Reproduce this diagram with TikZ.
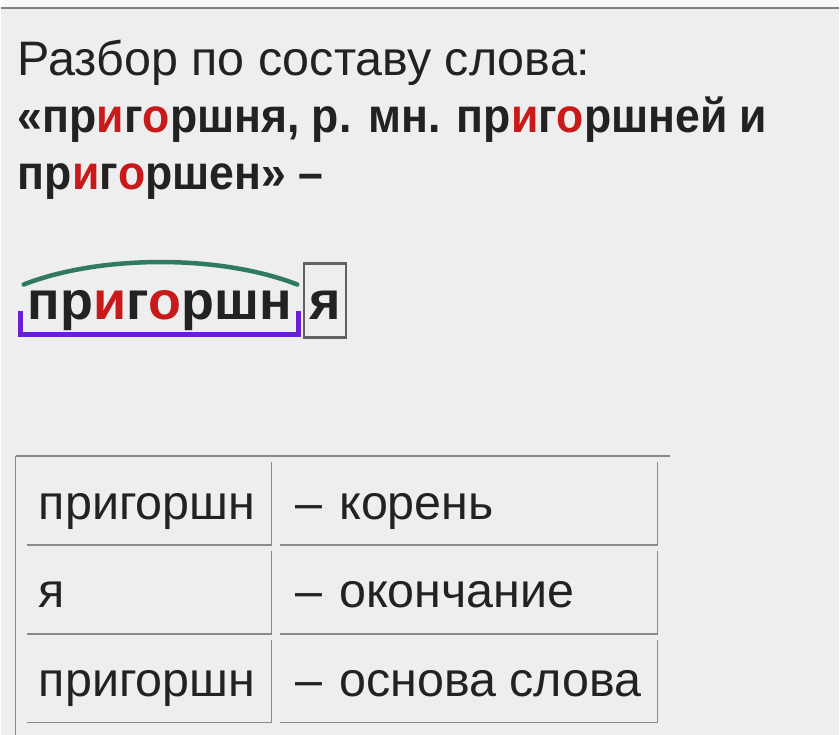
\documentclass[tikz,border=0pt]{standalone}
\usepackage{fontspec}
\setmainfont{Liberation Sans}
\newfontfamily\headfont{Liberation Sans}[FakeStretch=0.93]

\definecolor{ink}{HTML}{222222}
\definecolor{accent}{HTML}{C81A1A}
\definecolor{rootgreen}{HTML}{2F7A60}
\definecolor{stemviolet}{HTML}{6A1FD0}
\definecolor{paper}{HTML}{EEEEEE}
\definecolor{rulegray}{HTML}{8A8A8A}
\newcommand{\redl}[1]{\textcolor{accent}{#1}}
\newcommand{\dsh}{–\hspace{17pt}}

\begin{document}
\begin{tikzpicture}[x=1pt, y=-1pt,
    txt/.style={anchor=base west, inner sep=0pt, text=ink, font=\fontsize{48.5}{57}\selectfont},
    boldtxt/.style={txt, font=\fontsize{48}{57}\selectfont\headfont\bfseries},
    wordtxt/.style={txt, font=\fontsize{54}{60}\selectfont\bfseries},
    cellline/.style={draw=rulegray, line width=1.5pt}]

    % background and top rule
    \fill[paper] (0,0) rectangle (840,736);
    \fill[white!60!paper] (0,0) rectangle (840,7);
    \draw[gray, line width=1.5pt] (0,8) -- (840,8);
    \useasboundingbox (0,0) rectangle (840,736);

    % heading
    \node[txt] (head1) at (17,76) {Разбор по составу слова:};
    \node[boldtxt] (head2) at (17,133) {«пр\redl{и}г\redl{о}ршня, р. мн. пр\redl{и}г\redl{о}ршней и};
    \node[boldtxt] (head3) at (17,190) {пр\redl{и}г\redl{о}ршен» –};

    % word scheme
    \node[wordtxt] (root) at (27,320) {пр\redl{и}г\redl{о}ршн};
    \node[wordtxt, anchor=base] (ending) at (325,320) {я};
    \draw[rulegray!70!black, line width=2.5pt] (304,264) rectangle (346,338);
    \draw[rootgreen, line width=4.5pt, line cap=round]
        (23,285) .. controls (100,255) and (220,255) .. (297,285);
    \draw[stemviolet, line width=5pt]
        (19.5,312) -- (19.5,335) -- (298,335) -- (298,312);

    % table
    \draw[cellline] (15,457) -- (670,457);
    \draw[cellline] (15,457) -- (15,736);
    \foreach \top/\bot in {463/546, 552/635, 641/724} {
        \draw[cellline] (26,\bot) -- (271,\bot) -- (271,\top);
        \draw[cellline] (280,\bot) -- (658,\bot) -- (658,\top);
    }

    \node[txt] (part1) at (38,520) {пригоршн};
    \node[txt] (name1) at (295,520) {\dsh корень};
    \node[txt] (part2) at (38,609) {я};
    \node[txt] (name2) at (295,609) {\dsh окончание};
    \node[txt] (part3) at (38,698) {пригоршн};
    \node[txt] (name3) at (295,698) {\dsh основа слова};
\end{tikzpicture}
\end{document}
